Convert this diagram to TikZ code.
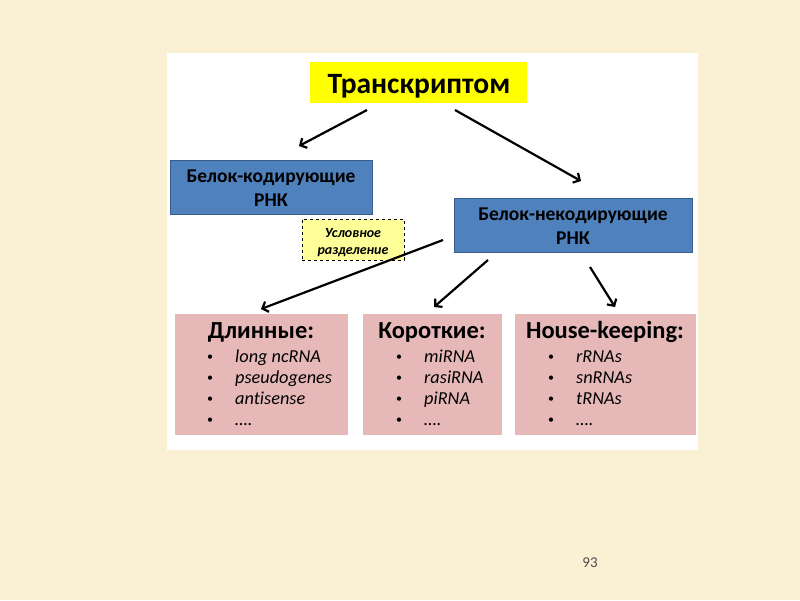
\documentclass[tikz,border=0pt]{standalone}
\usepackage{fontspec}
\setmainfont[Ligatures=NoCommon]{Carlito}
\usetikzlibrary{arrows.meta}
\definecolor{parch}{HTML}{FAF0D4}
\definecolor{blueb}{HTML}{4F81BD}
\definecolor{bluebd}{HTML}{385D8A}
\definecolor{pinkb}{HTML}{E6B9B8}
\definecolor{yelb}{HTML}{FFFF00}
\definecolor{lyel}{HTML}{FFFF99}
\tikzset{
  bluebox/.style={draw=bluebd, line width=0.8pt, fill=blueb, inner sep=0pt},
  bluetxt/.style={font=\bfseries\fontsize{19.5}{24}\selectfont, anchor=base, inner sep=0pt},
  pinkbox/.style={fill=pinkb, inner sep=0pt},
  arr/.style={-{Straight Barb[length=5pt,width=11pt]}, line width=2.2pt},
  hdr/.style={font=\bfseries\fontsize{24.5}{28}\selectfont, inner sep=0pt, anchor=base},
  itm/.style={font=\itshape\fontsize{18.3}{21}\selectfont, anchor=base west, inner sep=0pt},
  bul/.style={font=\fontsize{12}{14}\selectfont, inner sep=0pt, anchor=base, yshift=1.8pt}
}
\newcommand{\blist}[5]{%
  \node[bul] at (#1,362) {•}; \node[itm] at (#2,362) {#3};
  \node[bul] at (#1,383) {•}; \node[itm] at (#2,383) {#4};
  \node[bul] at (#1,404) {•}; \node[itm] at (#2,404) {#5};
  \node[bul] at (#1,425) {•}; \node[itm] at (#2,425) {….};
}
\begin{document}
\begin{tikzpicture}[x=1pt,y=-1pt]
\fill[parch] (0,0) rectangle (800,600);
\useasboundingbox (0,0) rectangle (800,600);
\fill[white] (167,53) rectangle (698,450);

\node[fill=yelb, minimum width=217pt, minimum height=41pt, inner sep=0pt] (top) at (418.5,82.5) {};
\node[font=\bfseries\fontsize{29.5}{34}\selectfont, anchor=base, inner sep=0pt] (toptxt) at (419,93) {Транскриптом};

\node[bluebox, minimum width=202pt, minimum height=54pt] (lb) at (271,187) {};
\node[bluetxt] (lbt1) at (271,182) {Белок-кодирующие};
\node[bluetxt] (lbt2) at (271,206) {РНК};
\node[bluebox, minimum width=238pt, minimum height=54pt] (rb) at (573,225) {};
\node[bluetxt] (rbt1) at (573,220) {Белок-некодирующие};
\node[bluetxt] (rbt2) at (573,244) {РНК};

\node[draw=black, dashed, line width=0.7pt, fill=lyel, minimum width=102pt, minimum height=41pt, inner sep=0pt] (note) at (353,239.5) {};
\node[font=\bfseries\itshape\fontsize{14}{17}\selectfont, anchor=base, inner sep=0pt] (nt1) at (353,237) {Условное};
\node[font=\bfseries\itshape\fontsize{14}{17}\selectfont, anchor=base, inner sep=0pt] (nt2) at (353,254) {разделение};

\node[pinkbox, minimum width=173pt, minimum height=121pt] (p1) at (261.5,374.5) {};
\node[pinkbox, minimum width=139pt, minimum height=121pt] (p2) at (432.5,374.5) {};
\node[pinkbox, minimum width=181pt, minimum height=121pt] (p3) at (605.5,374.5) {};

\node[hdr] (h1) at (261,338) {Длинные:};
\node[hdr] (h2) at (432,338) {Короткие:};
\node[hdr] (h3) at (605,338) {House-keeping:};

\blist{210}{235}{long ncRNA}{pseudogenes}{antisense}
\blist{399}{424}{miRNA}{rasiRNA}{piRNA}
\blist{551}{576}{rRNAs}{snRNAs}{tRNAs}

\coordinate (a1s) at (367,110); \coordinate (a1e) at (299,146);
\coordinate (a2s) at (455,110); \coordinate (a2e) at (581,181);
\coordinate (a3s) at (443,240); \coordinate (a3e) at (261,309);
\coordinate (a4s) at (488,260); \coordinate (a4e) at (434,307);
\coordinate (a5s) at (590,267); \coordinate (a5e) at (615,307);
\draw[arr] (a1s) -- (a1e);
\draw[arr] (a2s) -- (a2e);
\draw[arr] (a3s) -- (a3e);
\draw[arr] (a4s) -- (a4e);
\draw[arr] (a5s) -- (a5e);

\node[font=\fontsize{15}{17}\selectfont, text=black!70, anchor=base, inner sep=0pt] (pg) at (590,567) {93};
\end{tikzpicture}
\end{document}
